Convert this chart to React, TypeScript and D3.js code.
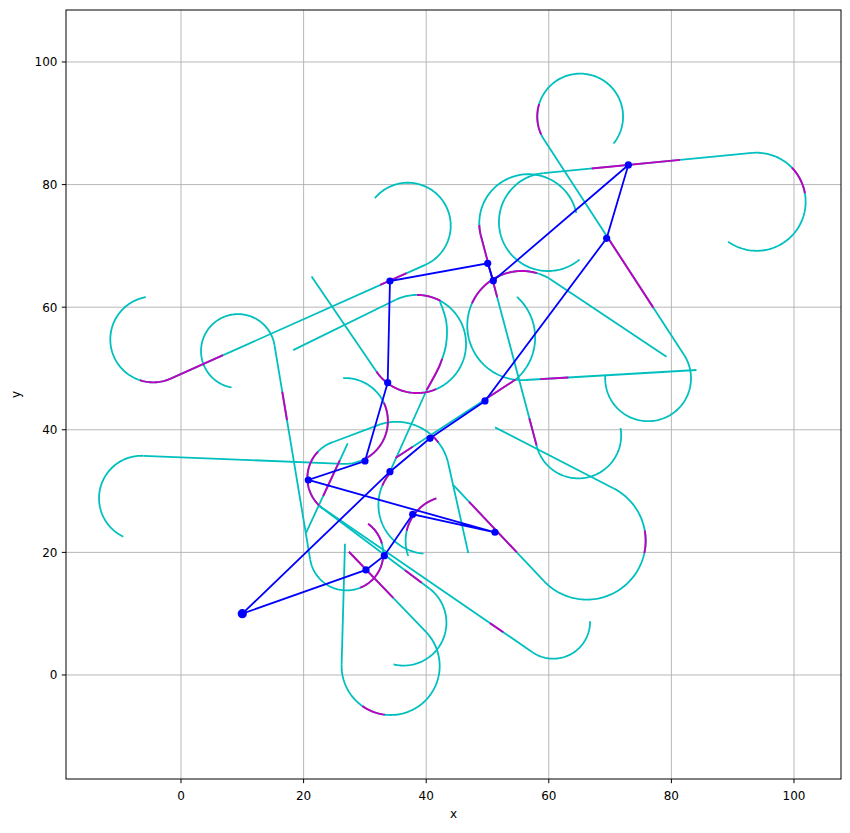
import React from "react";
import * as d3 from "d3";

const W = 850;
const H = 833;
const M = { left: 66, right: 841, top: 10, bottom: 779 };

const xDomain = [-18.76, 107.67];
const yDomain = [-16.97, 108.48];
const xTicks = [0, 20, 40, 60, 80, 100];
const yTicks = [0, 20, 40, 60, 80, 100];

const PATH_COLOR = "#00bfbf";
const MARK_COLOR = "#bf00bf";
const TOUR_COLOR = "#0000ff";

// tour through the waypoints, in visiting order (closed)
const tourX = [10, 30.18, 33.17, 37.8, 51.22, 20.77, 30.02, 33.72, 34.09, 50.03, 50.95, 72.98, 69.44, 49.59, 40.62, 34.09, 10];
const tourY = [10, 17.13, 19.46, 26.22, 23.28, 31.81, 34.91, 47.68, 64.27, 67.16, 64.32, 83.2, 71.24, 44.7, 38.61, 33.16, 10];

// turning arcs: [cx, cy, r, startDeg, endDeg]
const pathArcs = [
  [-4.53, 54.74, 7.0, 100, 294],
  [37.0, 73.3, 7.0, -66, 140],
  [9.3, 52.84, 6.03, 260, 9],
  [27.0, 19.8, 6.0, 189, 414],
  [34.2, 1.47, 8.0, 43.5, -181.6],
  [36.3, 8.53, 7.0, 53, -103.5],
  [60.73, 8.66, 6.0, 235.5, 361],
  [26.82, 32.14, 6.2, 233, 107.6],
  [66.2, 21.9, 9.6, 223, 422.7],
  [76.2, 48.4, 7.0, 33.3, -184.5],
  [65.12, 91.1, 7.0, -39, 213.3],
  [93.9, 77.2, 8.0, 95.2, -125.4],
  [56.66, 73.69, 8.0, 12, 193.6],
  [59.87, 73.9, 8.0, 95.2, 310],
  [64.81, 39.08, 7.0, 193.6, 369.7],
  [38.5, 54.0, 8.0, 214.2, 475],
  [40.21, 27.77, 8.0, 139.6, 265.3],
  [43.9, 21.9, 7.26, 108, 200],
  [35.11, 32.59, 8.71, 107.6, 14],
  [-6.44, 28.83, 6.93, 87.3, 244.6],
  [26.75, 41.44, 7.0, 92.4, -92.7],
  [55.6, 57.0, 8.9, 273.6, 59.8],
  [48.83, 55.04, 8.94, 48, -50],
];

// straight pieces: [x1, y1, x2, y2]
const pathLines = [
  [-1.68, 48.35, 39.85, 66.9],
  [15.26, 53.78, 21.07, 18.86],
  [27.4, 20.1, 40.0, 6.98],
  [26.2, 1.69, 26.75, 21.4],
  [22.4, 27.7, 40.51, 14.12],
  [22.4, 27.7, 57.33, 3.71],
  [44.4, 31.0, 59.18, 15.35],
  [70.6, 30.43, 51.22, 40.4],
  [59.27, 87.26, 82.05, 52.24],
  [59.15, 81.87, 93.17, 85.17],
  [48.88, 71.81, 58.01, 37.43],
  [21.3, 65.0, 31.88, 49.5],
  [35.12, 61.25, 18.3, 53.0],
  [43.56, 34.7, 46.87, 19.87],
  [24.95, 38.05, 32.48, 40.89],
  [-6.11, 35.75, 26.42, 34.45],
  [60.08, 64.69, 79.2, 51.9],
  [56.16, 48.12, 84.1, 49.75],
  [54.58, 48.19, 35.0, 35.4],
  [40.08, 46.49, 34.09, 33.16],
  [20.4, 23.2, 27.2, 37.8],
];

// free-form piece
const pathCurves = [
  [[42.25, 60.9], [43.28, 57.59], [43.23, 53.83], [42.09, 50.24], [40.08, 46.49]],
];

// highlighted sections
const markArcs = [
  [-4.53, 54.74, 7.0, 252, 294],
  [27.0, 19.8, 6.0, 292, 355],
  [27.0, 19.8, 6.0, 376, 414],
  [34.2, 1.47, 8.0, -125, -97],
  [26.82, 32.14, 6.2, 136, 226],
  [66.2, 21.9, 9.6, -12, 10],
  [65.12, 91.1, 7.0, 163, 205],
  [93.9, 77.2, 8.0, 10, 44],
  [56.66, 73.69, 8.0, 182, 193.6],
  [38.5, 54.0, 8.0, 61.5, 90],
  [38.5, 54.0, 8.0, 214.2, 293],
  [40.21, 27.77, 8.0, 139.6, 157],
  [43.9, 21.9, 7.26, 108, 167],
  [35.11, 32.59, 8.71, 38, 49],
  [26.75, 41.44, 7.0, -62, 25],
  [55.6, 57.0, 8.9, 74, 156],
];

const markLines = [
  [-1.68, 48.35, 6.85, 52.16],
  [32.5, 63.62, 36.8, 65.54],
  [16.52, 46.2, 17.29, 41.6],
  [27.4, 20.1, 34.63, 12.57],
  [36.54, 17.1, 39.26, 15.06],
  [50.41, 8.46, 52.58, 6.97],
  [47.0, 28.25, 54.8, 19.99],
  [69.44, 71.63, 77.05, 59.93],
  [67.0, 82.63, 81.4, 84.03],
  [48.88, 71.81, 51.59, 61.6],
  [56.82, 41.9, 58.01, 37.43],
  [58.6, 48.26, 63.2, 48.53],
  [49.59, 44.93, 54.58, 48.19],
  [35.0, 35.4, 37.8, 37.23],
  [23.2, 29.2, 25.9, 35.0],
];

const markCurves = [
  [[42.6, 51.6], [42.09, 50.24], [40.08, 46.49]],
];

const FONT = "DejaVu Sans, sans-serif";

export default function App() {
  const x = d3.scaleLinear().domain(xDomain).range([M.left, M.right]);
  const y = d3.scaleLinear().domain(yDomain).range([M.bottom, M.top]);

  const line = d3
    .line<number[]>()
    .x((d) => x(d[0]))
    .y((d) => y(d[1]));
  const smooth = d3
    .line<number[]>()
    .x((d) => x(d[0]))
    .y((d) => y(d[1]))
    .curve(d3.curveCatmullRom);

  const arcPath = (a: number[]) => {
    const [cx, cy, r, a0, a1] = a;
    const n = Math.max(6, Math.ceil(Math.abs(a1 - a0) / 2));
    const pts = d3.range(n + 1).map((i) => {
      const t = ((a0 + ((a1 - a0) * i) / n) * Math.PI) / 180;
      return [cx + r * Math.cos(t), cy + r * Math.sin(t)];
    });
    return line(pts) || "";
  };
  const segPath = (l: number[]) => line([[l[0], l[1]], [l[2], l[3]]]) || "";

  const tour = tourX.map((v, i) => [v, tourY[i]]);

  return (
    <svg
      width={W}
      height={H}
      style={{ position: "absolute", left: 0, top: 0, background: "#fff" }}
    >
      <defs>
        <clipPath id="plot">
          <rect x={M.left} y={M.top} width={M.right - M.left} height={M.bottom - M.top} />
        </clipPath>
      </defs>

      {/* grid */}
      <g stroke="#b0b0b0" strokeWidth={0.9}>
        {xTicks.map((t) => (
          <line key={"gx" + t} x1={x(t)} x2={x(t)} y1={M.top} y2={M.bottom} />
        ))}
        {yTicks.map((t) => (
          <line key={"gy" + t} x1={M.left} x2={M.right} y1={y(t)} y2={y(t)} />
        ))}
      </g>

      <g clipPath="url(#plot)" fill="none" strokeLinecap="butt">
        <g stroke={PATH_COLOR} strokeWidth={1.8}>
          {pathArcs.map((a, i) => (
            <path key={"pa" + i} d={arcPath(a)} />
          ))}
          {pathLines.map((l, i) => (
            <path key={"pl" + i} d={segPath(l)} />
          ))}
          {pathCurves.map((c, i) => (
            <path key={"pc" + i} d={smooth(c) || ""} />
          ))}
        </g>
        <g stroke={MARK_COLOR} strokeWidth={1.9}>
          {markArcs.map((a, i) => (
            <path key={"ma" + i} d={arcPath(a)} />
          ))}
          {markLines.map((l, i) => (
            <path key={"ml" + i} d={segPath(l)} />
          ))}
          {markCurves.map((c, i) => (
            <path key={"mc" + i} d={smooth(c) || ""} />
          ))}
        </g>
        <path d={line(tour) || ""} stroke={TOUR_COLOR} strokeWidth={1.8} />
        {tour.slice(0, -1).map((p, i) => (
          <circle
            key={"tp" + i}
            cx={x(p[0])}
            cy={y(p[1])}
            r={i === 0 ? 4.6 : 3.6}
            fill={TOUR_COLOR}
          />
        ))}
      </g>

      {/* frame */}
      <rect
        x={M.left}
        y={M.top}
        width={M.right - M.left}
        height={M.bottom - M.top}
        fill="none"
        stroke="#000"
        strokeWidth={1}
      />

      {/* ticks */}
      <g stroke="#000" strokeWidth={1}>
        {xTicks.map((t) => (
          <line key={"tx" + t} x1={x(t)} x2={x(t)} y1={M.bottom} y2={M.bottom + 4.2} />
        ))}
        {yTicks.map((t) => (
          <line key={"ty" + t} x1={M.left - 4.2} x2={M.left} y1={y(t)} y2={y(t)} />
        ))}
      </g>
      <g fontFamily={FONT} fontSize={12} fill="#000">
        {xTicks.map((t) => (
          <text key={"lx" + t} x={x(t)} y={M.bottom + 21} textAnchor="middle">
            {t}
          </text>
        ))}
        {yTicks.map((t) => (
          <text key={"ly" + t} x={M.left - 8.5} y={y(t) + 4.4} textAnchor="end">
            {t}
          </text>
        ))}
        <text x={(M.left + M.right) / 2} y={M.bottom + 39} textAnchor="middle">
          x
        </text>
        <text
          transform={`translate(${20},${(M.top + M.bottom) / 2}) rotate(-90)`}
          textAnchor="middle"
        >
          y
        </text>
      </g>
    </svg>
  );
}
